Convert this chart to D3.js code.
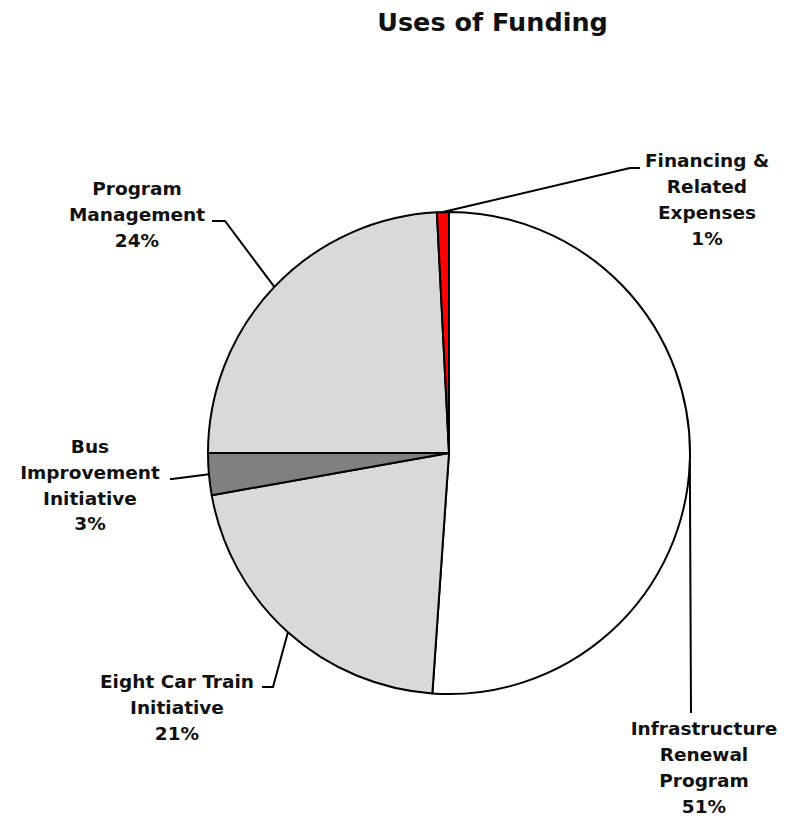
<!DOCTYPE html>
<html><head><meta charset="utf-8">
<script src="https://cdn.jsdelivr.net/npm/d3@7"></script>
<style>body{margin:0;background:#fff}text{font-family:"DejaVu Sans",Verdana,sans-serif;font-weight:bold;fill:#111}</style>
</head><body>
<svg id="c" width="794" height="816"></svg>
<script>
const categories = ["Infrastructure Renewal Program","Eight Car Train Initiative","Bus Improvement Initiative","Program Management","Financing & Related Expenses"];
const values = [51.1, 21.1, 2.8, 24.2, 0.8];
const labelLines = [["Infrastructure","Renewal","Program"],["Eight Car Train","Initiative"],["Bus","Improvement","Initiative"],["Program","Management"],["Financing &","Related","Expenses"]];
const colors = ["#ffffff","#d9d9d9","#808080","#d9d9d9","#ff0000"];

// layout (not data)
const cx = 449, cy = 453, r = 241;
const layout = [
  {elbow:[691,713], end:[691,713], tx:704, ty:729},
  {elbow:[273,687], end:[262,687], tx:177, ty:681.5},
  {elbow:[172,479], end:[170,479], tx:90, ty:446.5},
  {elbow:[225,221], end:[212,221], tx:137, ty:188.5},
  {elbow:[630,168], end:[640,168], tx:707, ty:161}
];

const svg = d3.select("#c");
svg.append("text").attr("x",492.5).attr("y",31).attr("text-anchor","middle").style("font-size","25.5px").text("Uses of Funding");

const pie = d3.pie().sort(null).value(d=>d)(values);
const arc = d3.arc().innerRadius(0).outerRadius(r);
const g = svg.append("g").attr("transform",`translate(${cx},${cy})`);
g.selectAll("path").data(pie).join("path").attr("d",arc)
  .attr("fill",(d,i)=>colors[i]).attr("stroke","#000").attr("stroke-width",2).attr("stroke-linejoin","round");

const line = d3.line();
pie.forEach((d,i)=>{
  const a = (d.startAngle+d.endAngle)/2;
  const sx = cx + r*Math.sin(a), sy = cy - r*Math.cos(a);
  const L = layout[i];
  svg.append("path").attr("d",line([[sx,sy],L.elbow,L.end])).attr("fill","none").attr("stroke","#000").attr("stroke-width",2);
  const lines = labelLines[i].concat([Math.round(values[i])+"%"]);
  const t = svg.append("text").attr("text-anchor","middle").style("font-size","18.5px");
  lines.forEach((s,k)=>t.append("tspan").attr("x",L.tx).attr("y",L.ty+k*25.8).attr("dy","0.35em").text(s));
});
</script>
</body></html>
